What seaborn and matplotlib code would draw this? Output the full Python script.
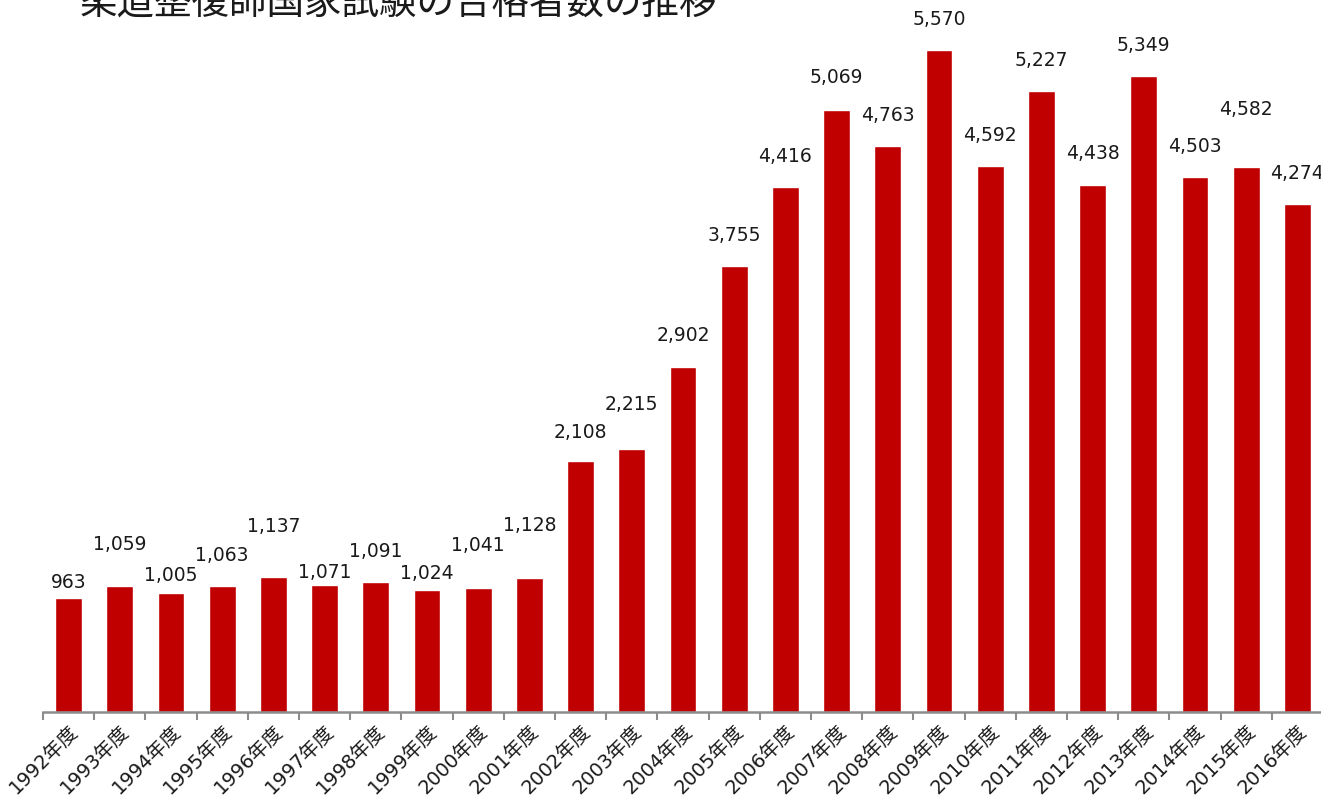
import numpy as np
import pandas as pd
import seaborn as sns
import matplotlib.pyplot as plt

sns.set_theme(style="white")
plt.rcParams['font.family'] = ['DejaVu Sans', 'Noto Sans CJK JP']

# data
years = [f"{y}年度" for y in range(1992, 2017)]
passers = [963, 1059, 1005, 1063, 1137, 1071, 1091, 1024, 1041, 1128,
           2108, 2215, 2902, 3755, 4416, 5069, 4763, 5570, 4592, 5227,
           4438, 5349, 4503, 4582, 4274]
title = "柔道整復師国家試験の合格者数の推移"

# label offset above bar top (points), labels were moved by hand in the original
label_offsets = [11, 30, 12, 22, 36, 9, 22, 12, 31, 38,
                 21, 32, 23, 22, 22, 23, 22, 22, 22, 22,
                 22, 22, 22, 42, 22]

bar_color = "#C00000"

fig = plt.figure(figsize=(13.21, 7.98), dpi=100)
# axes: x from 43px to 1323px, baseline at 712px
ax = fig.add_axes([43 / 1321, 86 / 798, 1280 / 1321, 712 / 798])

df = pd.DataFrame({"year": years, "n": passers})
sns.barplot(data=df, x="year", y="n", color=bar_color, saturation=1,
            width=0.52, ax=ax)

ax.set_xlim(-0.5, len(years) - 0.5)
ax.set_ylim(0, 712 / 0.11885)

for i, (v, off) in enumerate(zip(passers, label_offsets)):
    ax.annotate(f"{v:,}", (i, v), xytext=(0, off), textcoords="offset points",
                ha="center", va="center", fontsize=13.5, color="#1a1a1a",
                clip_on=False, annotation_clip=False)

for s in ["top", "right", "left"]:
    ax.spines[s].set_visible(False)
ax.spines["bottom"].set_color("#8c8c8c")
ax.spines["bottom"].set_linewidth(1.8)

ax.set_yticks([])
ax.set_xlabel("")
ax.set_ylabel("")
ax.set_xticks(range(len(years)))
ax.set_xticklabels(years, rotation=45, ha="right", rotation_mode="anchor",
                   fontsize=14, color="#1a1a1a")
ax.set_xticks(np.arange(-0.5, len(years)), minor=True)
ax.tick_params(axis="x", which="major", length=0, pad=7)
ax.tick_params(axis="x", which="minor", length=6, width=1.5, color="#8c8c8c",
               bottom=True)

fig.text(80 / 1321, 1 - 4 / 798, title, fontsize=27, color="#1a1a1a",
         ha="left", va="center", family=['Noto Sans CJK JP', 'DejaVu Sans'])

fig.savefig("out.png", dpi=100)
